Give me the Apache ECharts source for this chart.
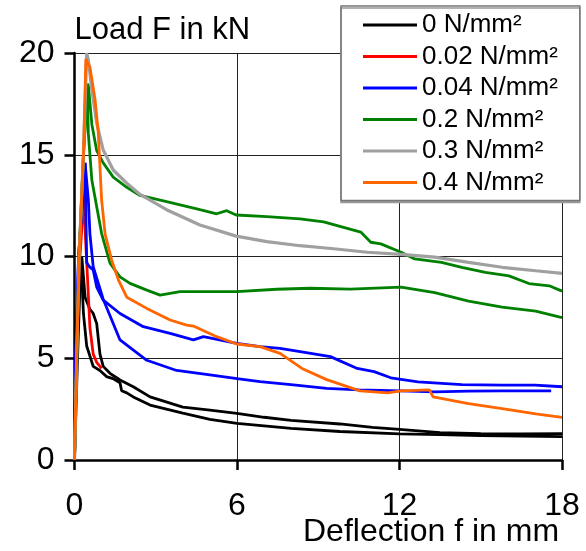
<!DOCTYPE html>
<html>
<head>
<meta charset="utf-8">
<script src="https://cdn.jsdelivr.net/npm/echarts@6/dist/echarts.min.js"></script>
<style>
  html, body { margin: 0; padding: 0; background: #fff; }
  #chart { width: 586px; height: 551px; }
</style>
</head>
<body>
<div id="chart"></div>
<script>
// legend names (lateral pressure)
var names = ['0 N/mm²', '0.02 N/mm²', '0.04 N/mm²', '0.2 N/mm²', '0.3 N/mm²', '0.4 N/mm²']
var colors = ['#000000', '#ff0000', '#0000ff', '#008000', '#a0a0a0', '#ff6600']

var xTicks = [0, 6, 12, 18]
var yTicks = [0, 5, 10, 15, 20]

// deflection [mm], load [kN]
var black1 = [[0,0],[0.05,5],[0.2,9.9],[0.25,9.6],[0.33,7.2],[0.45,5.6],[0.69,4.6],[0.94,4.4],[1.18,4.1],[1.42,4.0],[1.68,3.8],[1.74,3.4],[1.93,3.3],[2.17,3.1],[2.79,2.7],[4.0,2.3],[5.0,2.0],[6.0,1.8],[8.0,1.55],[9.8,1.4],[12,1.28],[13.5,1.25],[15,1.2],[16.5,1.18],[18,1.15]]
var black2 = [[0,0],[0.1,4.5],[0.2,8.5],[0.27,10],[0.39,8.0],[0.57,7.4],[0.69,7.2],[0.82,6.7],[0.94,5.2],[1.06,4.6],[1.31,4.26],[1.68,3.93],[2.17,3.6],[2.79,3.1],[4.0,2.6],[5.0,2.45],[6.0,2.29],[7,2.1],[8.0,1.95],[9.8,1.77],[11,1.6],[12,1.5],[13.5,1.35],[15,1.3],[16.5,1.28],[18,1.3]]
var red1 = [[0,0],[0.05,5],[0.2,10],[0.35,13.0],[0.4,11.1],[0.47,9.2],[0.57,6.5],[0.69,5.2],[0.82,4.8],[1.0,4.5]]
var blue1 = [[0,0],[0.05,5],[0.15,10],[0.39,14.6],[0.42,12],[0.45,9.7],[0.55,9.5],[0.69,9.34],[0.82,8.5],[1.06,7.86],[1.68,7.2],[2.54,6.55],[3.53,6.22],[4.39,5.9],[4.76,6.06],[5.99,5.73],[6.85,5.57],[7.59,5.49],[8.33,5.33],[9.45,5.08],[10.44,4.5],[11.06,4.34],[11.68,4.04],[12.68,3.84],[14.3,3.7],[15.8,3.68],[17,3.68],[18,3.6]]
var blue2 = [[0,0],[0.05,5],[0.15,10],[0.39,14.6],[0.51,12.8],[0.57,11.1],[0.69,9.5],[1.06,7.9],[1.68,5.9],[2.67,4.9],[3.77,4.4],[5.0,4.18],[6.0,4.0],[6.85,3.85],[8.08,3.69],[9.31,3.52],[10.5,3.45],[12.06,3.4],[13.3,3.35],[14.55,3.38],[15.8,3.4],[17.6,3.4]]
var green1 = [[0,0],[0.08,5],[0.17,10],[0.33,15],[0.49,18.5],[0.52,18.3],[0.64,16.5],[0.82,15.2],[1.06,14.6],[1.43,13.9],[1.93,13.4],[2.42,13.0],[3.4,12.7],[4.63,12.3],[5.25,12.1],[5.62,12.25],[5.97,12.04],[7.1,11.96],[8.33,11.85],[9.2,11.7],[10.57,11.2],[10.94,10.7],[11.31,10.62],[12.06,10.21],[12.56,9.88],[13.55,9.71],[14.3,9.47],[15.17,9.22],[16.04,9.05],[16.78,8.67],[17.53,8.56],[18,8.3]]
var green2 = [[0,0],[0.08,5],[0.17,10],[0.33,15],[0.47,18.3],[0.51,16.05],[0.64,13.76],[0.82,12.45],[1.0,11.14],[1.31,9.67],[1.68,9.0],[2.05,8.68],[2.67,8.35],[3.16,8.1],[3.9,8.27],[4.39,8.27],[5.99,8.27],[7.47,8.39],[8.7,8.44],[10.19,8.4],[12.06,8.5],[13.3,8.23],[14.55,7.81],[15.79,7.51],[17.03,7.32],[18,7.0]]
var gray1 = [[0,0],[0.08,5],[0.17,10],[0.33,15],[0.45,20],[0.51,19.66],[0.64,18.2],[0.82,16.55],[1.06,15.23],[1.43,14.25],[1.93,13.6],[2.42,13.05],[3.4,12.3],[4.63,11.55],[5.97,11.0],[7.1,10.73],[8.33,10.53],[9.57,10.38],[10.81,10.21],[12.06,10.1],[13.3,9.97],[14.55,9.71],[15.79,9.47],[17.03,9.3],[18,9.17]]
var orange1 = [[0,0],[0.08,5],[0.17,10],[0.33,15],[0.42,19.7],[0.57,19.3],[0.76,17.7],[0.88,16.05],[0.94,14.4],[1.0,12.8],[1.13,11.1],[1.37,9.83],[1.62,8.85],[1.93,8.0],[2.67,7.45],[3.53,6.88],[4.14,6.63],[4.39,6.58],[5.25,6.06],[5.99,5.7],[6.85,5.57],[7.59,5.24],[8.4,4.5],[9.31,3.95],[10.54,3.4],[11.56,3.3],[12.06,3.4],[13.1,3.45],[13.24,3.1],[14.55,2.77],[15.79,2.52],[17.03,2.27],[18,2.1]]

// which curve belongs to which legend entry
var curves = [
  [0, black1], [0, black2],
  [1, red1],
  [2, blue1], [2, blue2],
  [3, green1], [3, green2],
  [4, gray1],
  [5, orange1]
]

var font = "'Liberation Sans', Arial, sans-serif"

var series = curves.map(function (c) {
  return {
    name: names[c[0]],
    type: 'line',
    data: c[1],
    symbol: 'none',
    color: colors[c[0]],
    lineStyle: { width: c[0] === 4 ? 3.2 : 2.8, color: colors[c[0]] },
    z: 2 + c[0]
  }
})

var chart = echarts.init(document.getElementById('chart'))
chart.setOption({
  animation: false,
  backgroundColor: '#fff',
  grid: { left: 74.5, right: 24, top: 53, bottom: 91, outerBoundsMode: 'none', containLabel: false },
  legend: {
    data: names,
    orient: 'vertical',
    left: 341,
    top: 6,
    padding: [6, 22, 5, 22],
    itemWidth: 54,
    itemHeight: 3,
    itemGap: 5.5,
    icon: 'rect',
    backgroundColor: '#fff',
    borderColor: '#777',
    borderWidth: 1.5,
    shadowColor: '#999',
    shadowOffsetY: 2,
    textStyle: { fontSize: 26, fontFamily: font, color: '#000', lineHeight: 26 }
  },
  // x axis title sits under the tick labels, right aligned to the axis end
  graphic: [{
    type: 'text',
    silent: true,
    left: 303,
    top: 516,
    style: {
      text: 'Deflection f in mm',
      fontSize: 32, fontFamily: font, fill: '#000'
    }
  }],
  xAxis: {
    type: 'value',
    min: xTicks[0],
    max: xTicks[xTicks.length - 1],
    interval: 6,
    axisLine: { show: true, onZero: false, lineStyle: { color: '#000', width: 2.5 } },
    axisTick: { show: true, length: 10, lineStyle: { color: '#000', width: 2.5 } },
    axisLabel: { fontSize: 32, fontFamily: font, color: '#000', margin: 30 },
    splitLine: { show: true, lineStyle: { color: '#222', width: 1 } }
  },
  yAxis: {
    type: 'value',
    min: yTicks[0],
    max: yTicks[yTicks.length - 1],
    interval: 5,
    name: 'Load F in kN',
    nameLocation: 'end',
    nameGap: 23,
    nameTextStyle: { fontSize: 31, fontFamily: font, color: '#000', align: 'left', verticalAlign: 'middle' },
    axisLine: { show: true, onZero: false, lineStyle: { color: '#000', width: 2.5 } },
    axisTick: { show: true, length: 10, lineStyle: { color: '#000', width: 2.5 } },
    axisLabel: { fontSize: 32, fontFamily: font, color: '#000', margin: 20 },
    splitLine: { show: true, lineStyle: { color: '#222', width: 1 } }
  },
  series: series
})
</script>
</body>
</html>
